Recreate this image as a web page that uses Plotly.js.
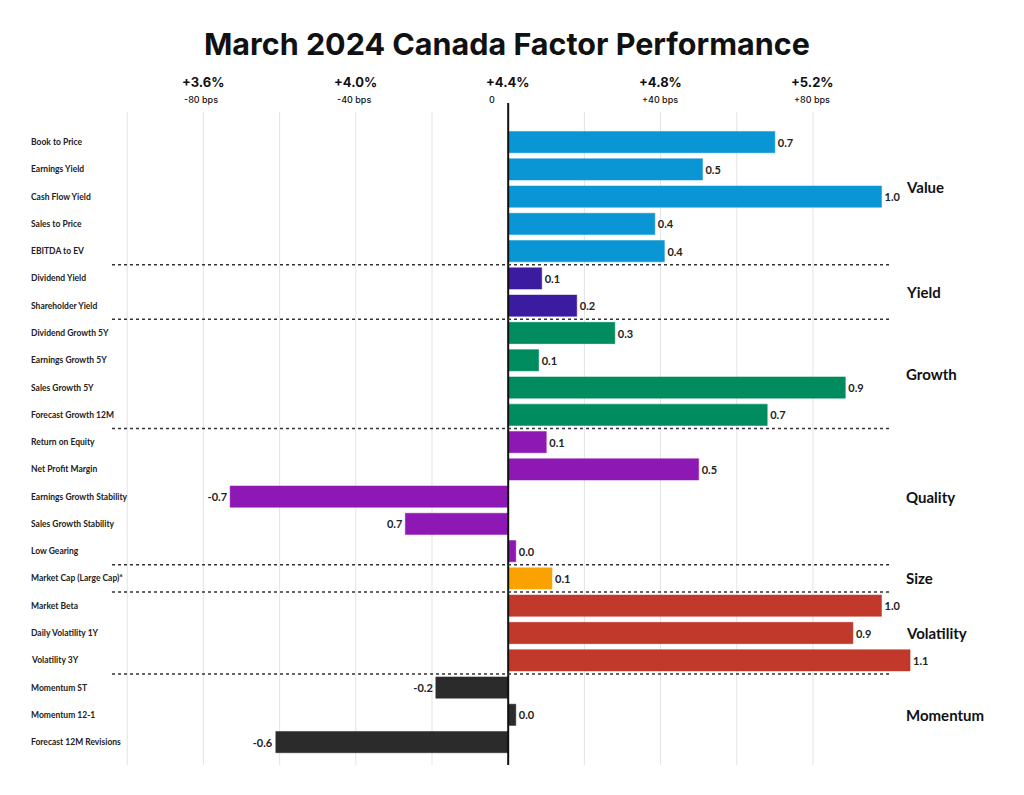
<!DOCTYPE html>
<html>
<head>
<meta charset="utf-8">
<script src="https://cdn.plot.ly/plotly-3.0.1.min.js"></script>
<style>
html,body{margin:0;padding:0;background:#fff;}
#chart{width:1024px;height:795px;}
</style>
</head>
<body>
<div id="chart"></div>
<script>
// ---- data ----
const factors = [
  "Book to Price","Earnings Yield","Cash Flow Yield","Sales to Price","EBITDA to EV",
  "Dividend Yield","Shareholder Yield",
  "Dividend Growth 5Y","Earnings Growth 5Y","Sales Growth 5Y","Forecast Growth 12M",
  "Return on Equity","Net Profit Margin","Earnings Growth Stability","Sales Growth Stability","Low Gearing",
  "Market Cap (Large Cap)*",
  "Market Beta","Daily Volatility 1Y","Volatility 3Y",
  "Momentum ST","Momentum 12-1","Forecast 12M Revisions"
];
// relative performance, percentage points
const values = [
  0.70, 0.51, 0.98, 0.385, 0.41,
  0.088, 0.18,
  0.28, 0.08, 0.885, 0.68,
  0.10, 0.50, -0.73, -0.27, 0.02,
  0.115,
  0.98, 0.905, 1.055,
  -0.19, 0.02, -0.61
];
const valueLabels = [
  "0.7","0.5","1.0","0.4","0.4",
  "0.1","0.2",
  "0.3","0.1","0.9","0.7",
  "0.1","0.5","-0.7","0.7","0.0",
  "0.1",
  "1.0","0.9","1.1",
  "-0.2","0.0","-0.6"
];
const groups = ["Value","Yield","Growth","Quality","Size","Volatility","Momentum"];
const groupSizes = [5,2,4,5,1,3,3];
const groupColors = ["#0a96d4","#3b1b9f","#008c5f","#8e18b3","#f9a200","#c0392b","#2b2b2b"];
const tickVals = [-0.8,-0.4,0,0.4,0.8];
const tickTop = ["+3.6%","+4.0%","+4.4%","+4.8%","+5.2%"];
const tickBottom = ["-80 bps","-40 bps","0","+40 bps","+80 bps"];
const gridVals = [-1.0,-0.8,-0.6,-0.4,-0.2,0.2,0.4,0.6,0.8];

// ---- build ----
const FONT = "Lato, 'Open Sans', sans-serif";
const TFONT = "Inter, Lato, sans-serif";
const idx = factors.map((_, i) => i);
const colors = [];
const groupStart = [];
let k = 0;
groupSizes.forEach((n, g) => { groupStart.push(k); for (let j = 0; j < n; j++) colors.push(groupColors[g]); k += n; });

const trace = {
  type: "bar",
  orientation: "h",
  x: values,
  y: idx,
  width: 0.78,
  marker: { color: colors, line: { color: colors, width: 0.5 } },
  text: valueLabels,
  textposition: "outside",
  cliponaxis: false,
  textfont: { family: FONT, size: 11, color: "#222", weight: 700 },
  hoverinfo: "skip"
};

const shapes = [];
gridVals.forEach(v => shapes.push({
  type: "line", xref: "x", yref: "paper", x0: v, x1: v, y0: 0, y1: 0.99,
  line: { color: "#e3e3e3", width: 1 }, layer: "below"
}));
shapes.push({ type: "line", xref: "x", yref: "paper", x0: 0, x1: 0, y0: 0, y1: 1.003,
  line: { color: "#111", width: 2 } });
// group separators
for (let g = 1; g < groups.length; g++) {
  const yv = groupStart[g] - 0.5;
  shapes.push({ type: "line", xref: "paper", yref: "y", x0: 0, x1: 0.876, y0: yv, y1: yv,
    line: { color: "#333", width: 1.5, dash: "dot" } });
}

const annotations = [];
factors.forEach((t, i) => annotations.push({
  text: t, xref: "paper", yref: "y", x: -0.094, y: i, xanchor: "left", yanchor: "middle",
  showarrow: false, font: { family: FONT, size: 8.5, color: "#222", weight: 700 }
}));
tickVals.forEach((v, i) => {
  annotations.push({
    text: "<b>" + tickTop[i] + "</b>",
    xref: "x", yref: "paper", x: v, y: 1.0348, xanchor: "center", yanchor: "middle",
    showarrow: false, font: { family: TFONT, size: 13, color: "#111" }
  });
  annotations.push({
    text: tickBottom[i],
    xref: "x", yref: "paper", x: v, y: 1.009, xanchor: "left", yanchor: "middle", xshift: -21,
    showarrow: false, font: { family: TFONT, size: 9, color: "#111", weight: 500 }
  });
});
const groupY = [1.65, 5.5, 8.5, 13, 16, 18, 21];
groups.forEach((t, g) => annotations.push({
  text: "<b>" + t + "</b>", xref: "paper", yref: "y", x: 0.892, y: groupY[g], xanchor: "left", yanchor: "middle",
  showarrow: false, font: { family: FONT, size: 15, color: "#111" }
}));

const layout = {
  width: 1024, height: 795,
  paper_bgcolor: "#fff", plot_bgcolor: "#fff",
  margin: { l: 112, r: 24, t: 105, b: 30 },
  title: { text: "<b>March 2024 Canada Factor Performance</b>", x: 0.495, xanchor: "center", y: 0.944, yanchor: "middle",
    font: { family: TFONT, size: 30.5, color: "#111" } },
  xaxis: { range: [-1.04, 1.291], showgrid: false, zeroline: false, showticklabels: false, ticks: "", fixedrange: true },
  yaxis: { range: [22.84, -1.36], showgrid: false, zeroline: false, showticklabels: false, ticks: "", fixedrange: true },
  showlegend: false,
  bargap: 0.2,
  shapes: shapes,
  annotations: annotations
};

Plotly.newPlot("chart", [trace], layout, { displayModeBar: false, staticPlot: true });
</script>
</body>
</html>
